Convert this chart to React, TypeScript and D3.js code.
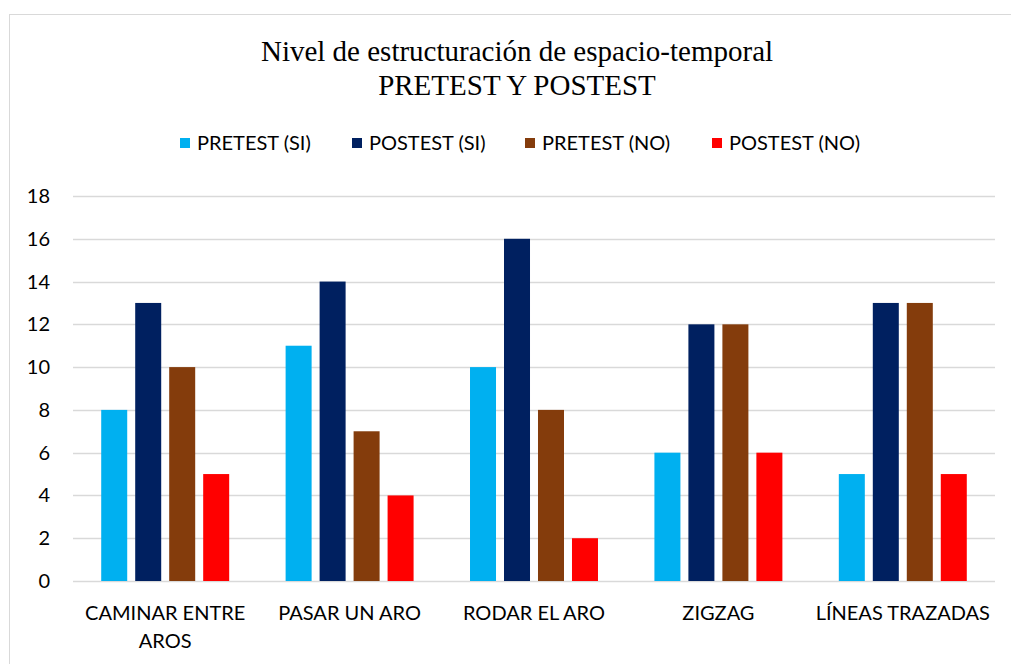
import React, { useEffect, useRef } from "react";
import * as d3 from "d3";

const categories = [["CAMINAR ENTRE", "AROS"], ["PASAR UN ARO"], ["RODAR EL ARO"], ["ZIGZAG"], ["LÍNEAS TRAZADAS"]];
const seriesNames = ["PRETEST (SI)", "POSTEST (SI)", "PRETEST (NO)", "POSTEST (NO)"];
const seriesColors = ["#00B0F0", "#002060", "#843C0C", "#FF0000"];
const pretestSi = [8, 11, 10, 6, 5];
const postestSi = [13, 14, 16, 12, 13];
const pretestNo = [10, 7, 8, 12, 13];
const postestNo = [5, 4, 2, 6, 5];
const yTicks = [0, 2, 4, 6, 8, 10, 12, 14, 16, 18];
const titleLines = ["Nivel de estructuración de espacio-temporal", "PRETEST Y POSTEST"];

const W = 1011;
const H = 664;
const FONT = "Lato, 'Open Sans', sans-serif";

export default function App() {
  const ref = useRef<SVGSVGElement>(null);
  useEffect(() => {
    document.body.style.margin = "0";
    const svg = d3.select(ref.current);
    svg.selectAll("*").remove();
    const values = [pretestSi, postestSi, pretestNo, postestNo];
    const left = 73, right = 995, top = 196, bottom = 581;

    svg.append("rect").attr("x", 0).attr("y", 0).attr("width", W).attr("height", H).attr("fill", "#fff");
    svg.append("rect").attr("x", 9.5).attr("y", 14.5).attr("width", 1010).attr("height", 700)
      .attr("fill", "none").attr("stroke", "#d9d9d9").attr("stroke-width", 1);

    const x0 = d3.scaleBand<number>().domain(d3.range(categories.length)).range([left, right])
      .paddingInner(0.306).paddingOuter(0.153);
    const x1 = d3.scaleBand<number>().domain(d3.range(seriesNames.length)).range([0, x0.bandwidth()])
      .paddingInner(0.235).paddingOuter(0);
    const y = d3.scaleLinear().domain([0, 18]).range([bottom, top]);

    // gridlines
    svg.append("g").selectAll("line").data(yTicks).join("line")
      .attr("x1", left).attr("x2", right)
      .attr("y1", (d) => Math.round(y(d)) + 0.5).attr("y2", (d) => Math.round(y(d)) + 0.5)
      .attr("stroke", "#d9d9d9").attr("stroke-width", 1.3);

    // y labels
    svg.append("g").selectAll("text").data(yTicks).join("text")
      .attr("x", 50).attr("y", (d) => y(d)).attr("dy", "0.35em").attr("text-anchor", "end")
      .attr("font-family", FONT).attr("font-size", 20).attr("fill", "#000").text((d) => d);

    // bars
    values.forEach((vals, si) => {
      svg.append("g").selectAll("rect").data(vals).join("rect")
        .attr("x", (_, i) => (x0(i) as number) + (x1(si) as number))
        .attr("width", x1.bandwidth())
        .attr("y", (d) => y(d))
        .attr("height", (d) => y(0) - y(d))
        .attr("fill", seriesColors[si]);
    });

    // x labels
    categories.forEach((lines, i) => {
      const cx = (x0(i) as number) + x0.bandwidth() / 2;
      lines.forEach((ln, li) => {
        svg.append("text").attr("x", cx).attr("y", 620 + li * 28).attr("text-anchor", "middle")
          .attr("font-family", FONT).attr("font-size", 20).attr("fill", "#000").text(ln);
      });
    });

    // title
    titleLines.forEach((t, i) => {
      svg.append("text").attr("x", 517).attr("y", 61 + i * 34).attr("text-anchor", "middle")
        .attr("font-family", "'Liberation Serif', 'Times New Roman', serif").attr("font-size", 29)
        .attr("fill", "#000").text(t);
    });

    // legend
    const legendX = [180, 352, 525, 712];
    seriesNames.forEach((n, i) => {
      svg.append("rect").attr("x", legendX[i]).attr("y", 138).attr("width", 10).attr("height", 10)
        .attr("fill", seriesColors[i]);
      svg.append("text").attr("x", legendX[i] + 17).attr("y", 143).attr("dy", "0.35em")
        .attr("font-family", FONT).attr("font-size", 20).attr("fill", "#000").text(n);
    });
  }, []);
  return <svg ref={ref} width={W} height={H} style={{ display: "block" }} />;
}
